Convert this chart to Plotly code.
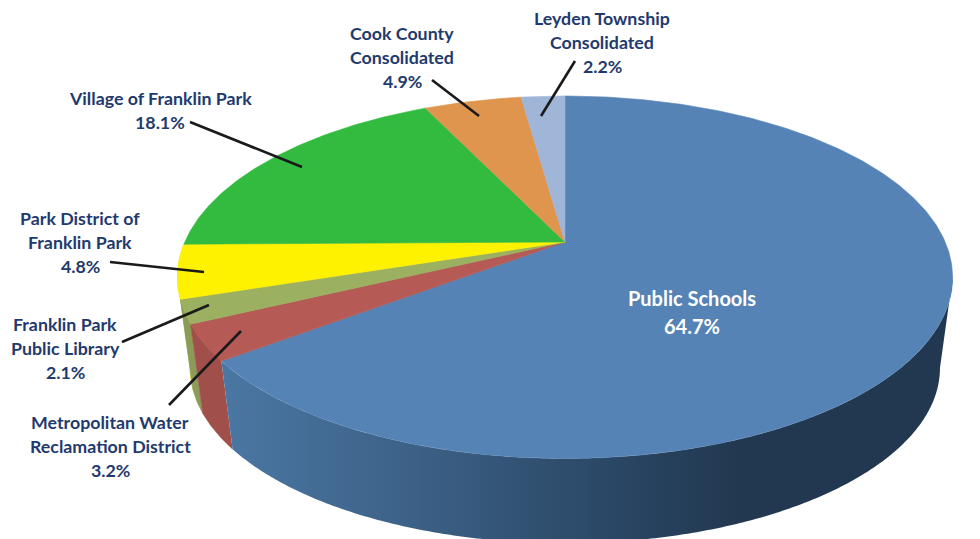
import numpy as np
import plotly.graph_objects as go

# ---- data ----
categories = ["Public Schools", "Metropolitan Water\nReclamation District", "Franklin Park\nPublic Library",
              "Park District of\nFranklin Park", "Village of Franklin Park", "Cook County\nConsolidated",
              "Leyden Township\nConsolidated"]
values = [64.7, 3.2, 2.1, 4.8, 18.1, 4.9, 2.2]

# ---- styling and layout ----
top_colors = ["#5583b5", "#b55a55", "#9bb060", "#fff200", "#33bb40", "#e0954e", "#a0b6d8"]
wall_colors = ["#4a77a3", "#a04f4a", "#8a9c58", "#e8dc00", "#2ca038", "#c8843f", "#8ea3c3"]
label_x = [692, 110, 65, 80, 160, 402, 602]
label_y = [297.5, 422, 324, 218, 98, 33, 18]
leaders = [None, (169, 405, 241, 331), (122, 342, 209, 305), (110, 262, 204, 272),
           (190, 122, 302, 167), (432, 80, 479, 116), (575, 61, 541, 116)]
NAVY = "#1f3a6e"
FONT = "Lato"
FS = 17.8
LINE = 24

CX = 565
K = 0.1945
TOP = dict(cy=242, a=380.2, b=174.4)
BOT = dict(cy=334, a=367.8, b=168.6)


def rim(theta, p):
    s, c = np.sin(theta), np.cos(theta)
    w = 1 + K * c
    return CX + p["a"] * s / w, p["cy"] - p["b"] * c / w


def arc(t0, t1):
    n = max(int(abs(t1 - t0) / np.radians(0.5)), 2)
    return np.linspace(t0, t1, n)


fig = go.Figure()
total = sum(values)
edges = np.concatenate([[0], np.cumsum(values)]) / total * 2 * np.pi


def poly(x, y, color):
    fig.add_trace(go.Scatter(x=x, y=y, mode="lines", fill="toself", fillcolor=color,
                             line=dict(color=color, width=0.6), hoverinfo="skip",
                             showlegend=False))


# visible side walls, back to front
for i in [3, 2, 1]:
    t = arc(edges[i], edges[i + 1])
    xt, yt = rim(t, TOP)
    xb, yb = rim(t[::-1], BOT)
    poly(np.r_[xt, xb], np.r_[yt, yb], wall_colors[i])

# the wall starts where the rim turns back, which is the silhouette tangent
t = arc(np.arccos(-K), edges[1])
xt, yt = rim(t, TOP)
xb, yb = rim(t[::-1], BOT)
xw, yw = np.r_[xt, xb], np.r_[yt, yb]
fig.add_trace(go.Scatter(x=xw, y=yw, mode="none", fill="toself", hoverinfo="skip", showlegend=False,
                         fillgradient=dict(type="horizontal", start=222, stop=740,
                                           colorscale=[[0, "#4a77a3"], [0.35, "#3d6288"],
                                                       [0.75, "#2a4765"], [1, "#223850"]])))

# top faces
for i in range(len(values)):
    t = arc(edges[i], edges[i + 1])
    x, y = rim(t, TOP)
    poly(np.r_[CX, x, CX], np.r_[TOP["cy"], y, TOP["cy"]], top_colors[i])

# labels
annotations = []
for i, (name, v) in enumerate(zip(categories, values)):
    lines = name.split("\n") + [f"{v}%"]
    for j, txt in enumerate(lines):
        annotations.append(dict(x=label_x[i], y=label_y[i] + j * (28 if i == 0 else LINE), text=f"<b>{txt}</b>",
                                showarrow=False, xanchor="center", yanchor="middle",
                                font=dict(family=FONT, size=20 if i == 0 else FS,
                                          color="white" if i == 0 else NAVY)))

shapes = [dict(type="line", x0=l[0], y0=l[1], x1=l[2], y1=l[3],
               line=dict(color="#1a1a1a", width=2.6), layer="above") for l in leaders if l]

fig.update_layout(width=980, height=539, margin=dict(l=0, r=0, t=0, b=0),
                  paper_bgcolor="white", plot_bgcolor="white", showlegend=False,
                  xaxis=dict(range=[0, 980], visible=False, fixedrange=True),
                  yaxis=dict(range=[539, 0], visible=False, fixedrange=True),
                  annotations=annotations, shapes=shapes)
fig.write_html("out.html", config={"displayModeBar": False},
               post_script="document.body.style.margin='0';")
